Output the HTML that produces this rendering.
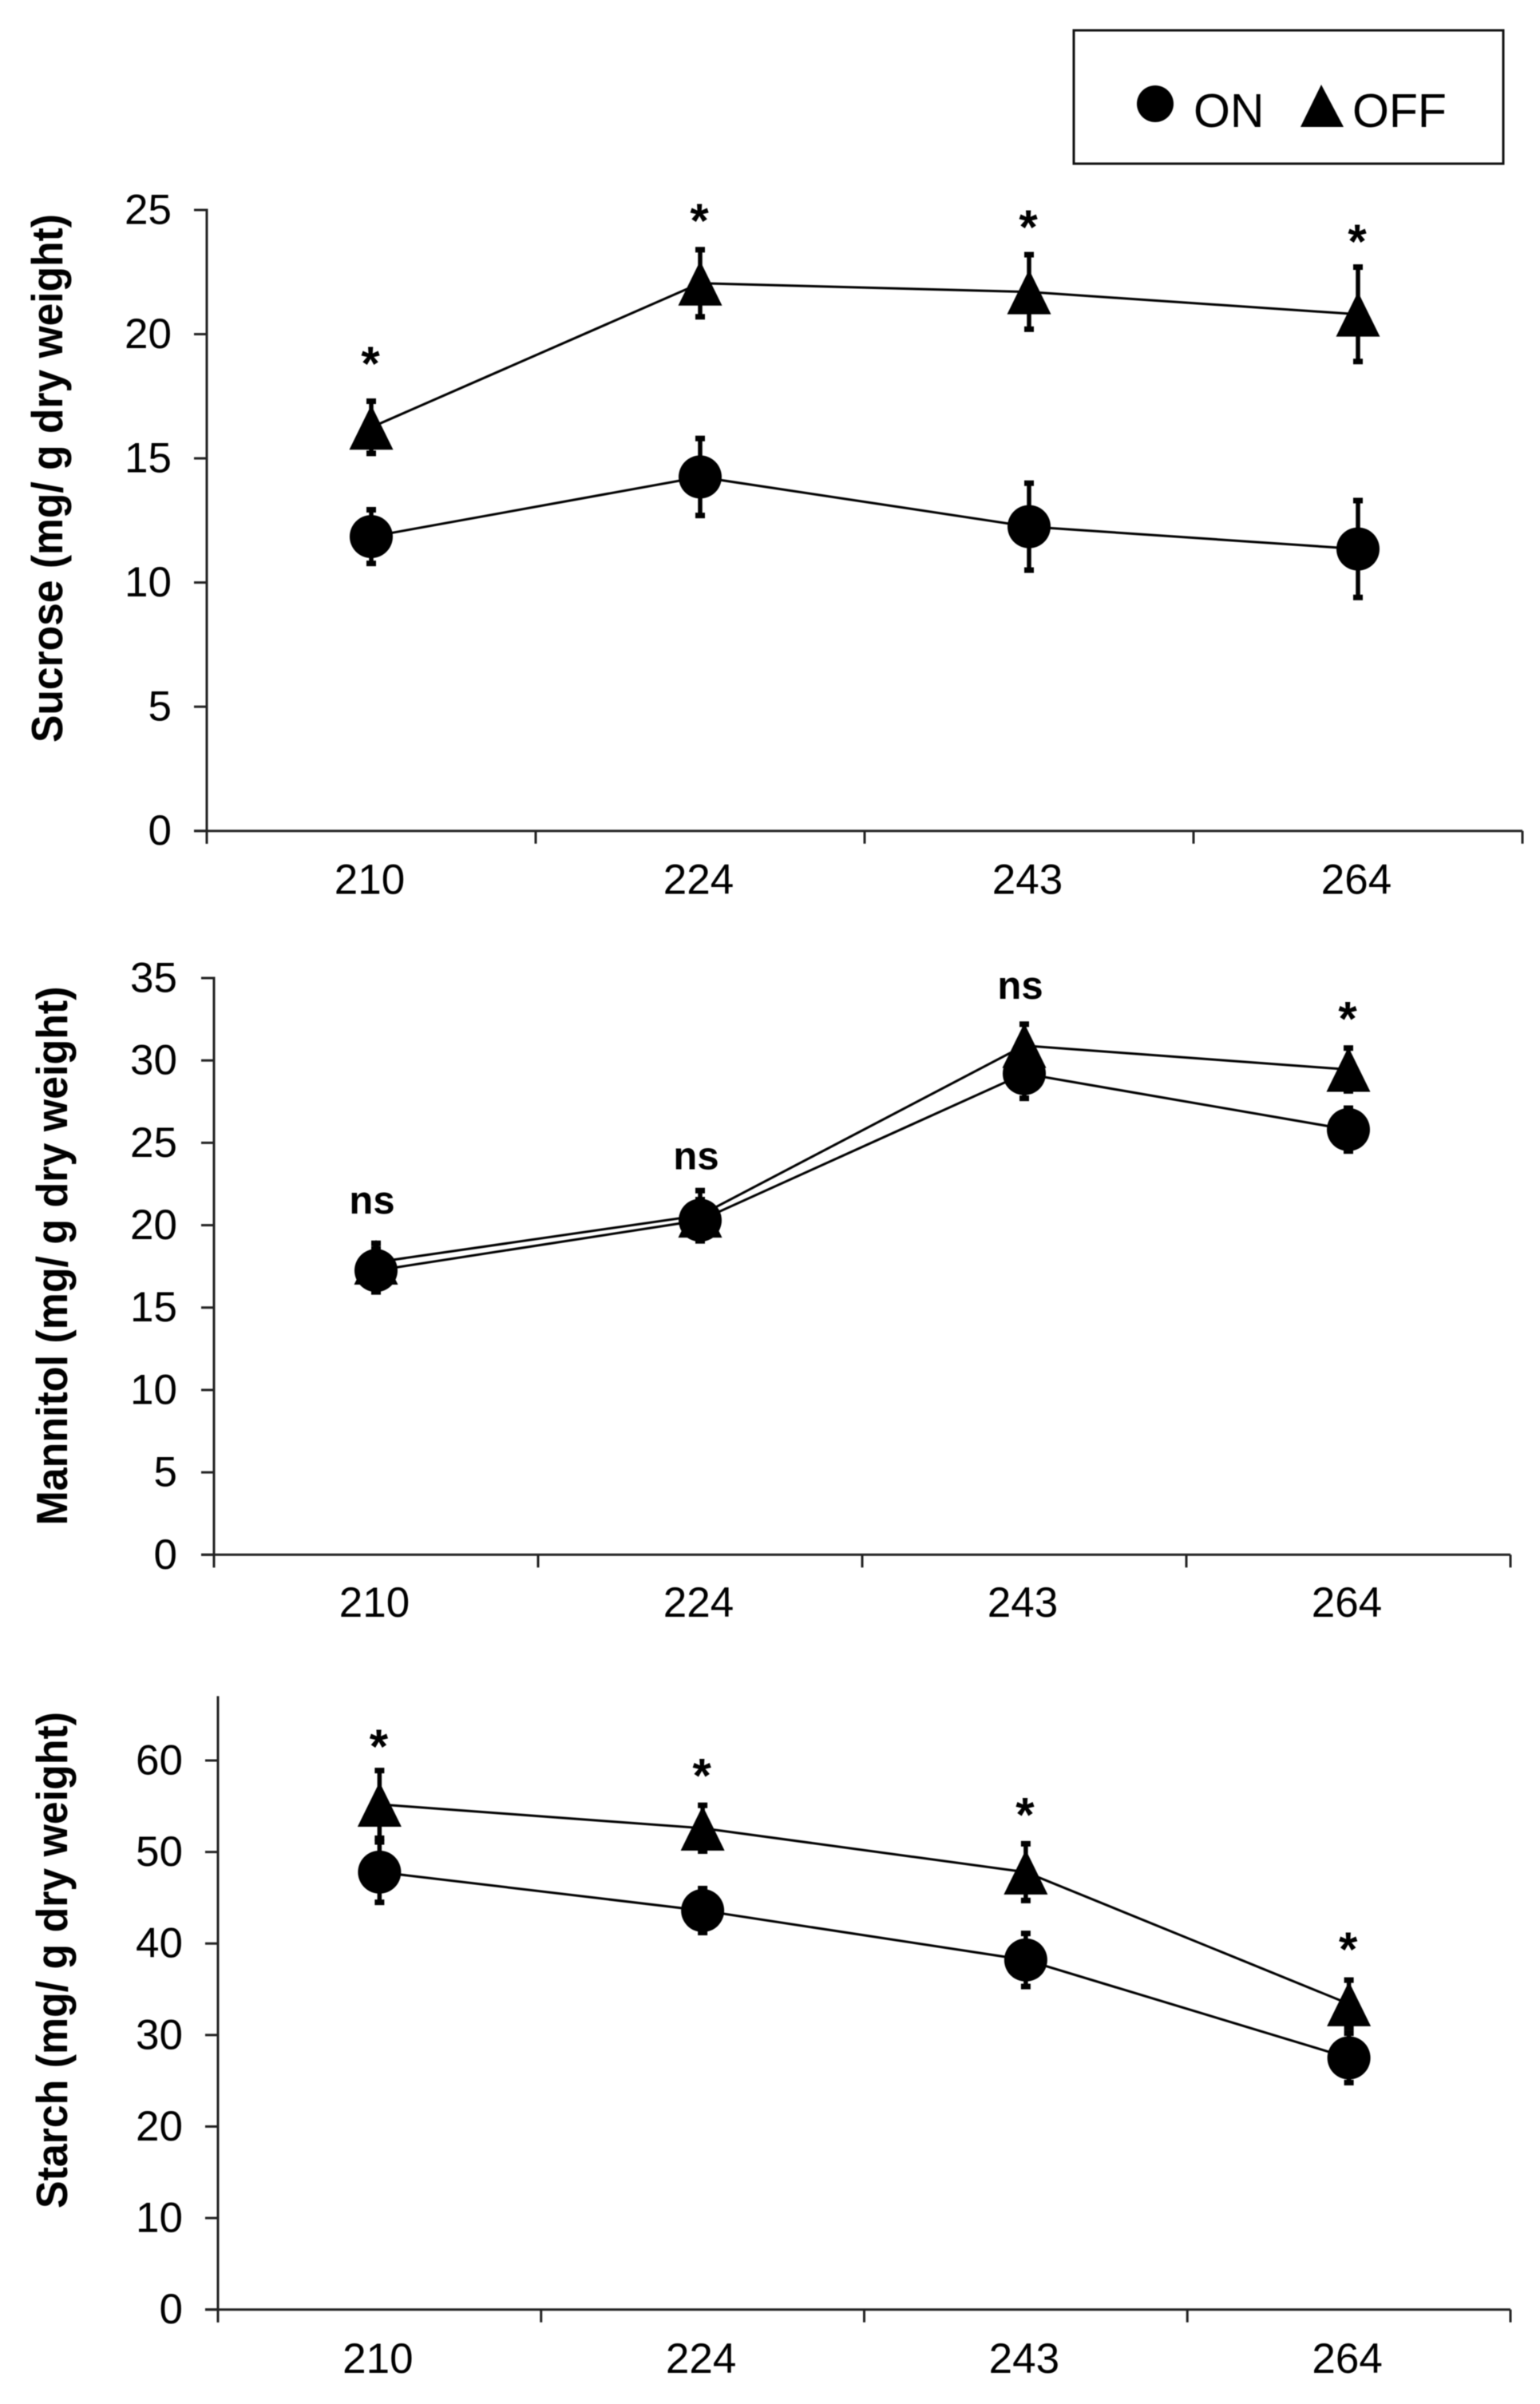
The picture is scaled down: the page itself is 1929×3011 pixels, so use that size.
<!DOCTYPE html>
<html lang="en">
<head>
<meta charset="utf-8">
<title>Sucrose, mannitol and starch content for ON and OFF</title>
<style>
  html, body { margin: 0; padding: 0; background: #fff; }
  svg { display: block; filter: blur(0.6px); }
  text { font-family: "Liberation Sans", Arial, sans-serif; fill: #000; }
</style>
</head>
<body>
<svg id="figure" xmlns="http://www.w3.org/2000/svg" width="1929" height="3011" viewBox="0 0 1929 3011">
  <rect x="0" y="0" width="1929" height="3011" fill="#fff"/>
  <g>
    <rect x="1345" y="38" width="538" height="167" fill="#fff" stroke="#111" stroke-width="3"/>
    <circle cx="1447" cy="130" r="23" fill="#000"/>
    <text x="1495" y="159" font-size="59">ON</text>
    <polygon points="1655,106 1683,159 1629,159" fill="#000"/>
    <text x="1694" y="159" font-size="59">OFF</text>
  </g>
</svg>
<script>
// Shared category labels
const categories = ['210', '224', '243', '264'];

// Sucrose panel
const sucroseTicks = [0, 5, 10, 15, 20, 25];
const sucroseOn = [11.85, 14.25, 12.25, 11.35];
const sucroseOnErr = [1.08, 1.55, 1.75, 1.95];
const sucroseOff = [16.25, 22.05, 21.7, 20.8];
const sucroseOffErr = [1.05, 1.35, 1.5, 1.9];
const sucroseSigLabels = ['*', '*', '*', '*'];
const sucroseSigAt = [19.06, 24.8, 24.55, 23.97];

// Mannitol panel
const mannitolTicks = [0, 5, 10, 15, 20, 25, 30, 35];
const mannitolOn = [17.25, 20.3, 29.2, 25.8];
const mannitolOnErr = [1.3, 1.25, 1.5, 1.3];
const mannitolOff = [17.75, 20.6, 30.9, 29.45];
const mannitolOffErr = [1.15, 1.5, 1.3, 1.3];
const mannitolSigLabels = ['ns', 'ns', 'ns', '*'];
const mannitolSigAt = [20.7, 23.4, 33.75, 32.9];

// Starch panel
const starchTicks = [0, 10, 20, 30, 40, 50, 60];
const starchOn = [47.8, 43.6, 38.2, 27.5];
const starchOnErr = [3.3, 2.4, 2.9, 2.7];
const starchOff = [55.2, 52.6, 47.8, 33.4];
const starchOffErr = [3.7, 2.5, 3.1, 2.6];
const starchSigLabels = ['*', '*', '*', '*'];
const starchSigAt = [62.2, 59, 54.7, 40];

const panels = [
  { key: 'sucrose', title: 'Sucrose (mg/ g dry weight)', ticks: sucroseTicks, on: sucroseOn, onErr: sucroseOnErr, off: sucroseOff, offErr: sucroseOffErr, sigLabels: sucroseSigLabels, sigAt: sucroseSigAt,
    left: 259, right: 1907, zeroY: 1040.7, maxV: 25, maxY: 263, axisTopV: 25, labelRight: 215, xLabelY: 1119.5, titleX: 78, titleCy: 599, titleLen: 662 },
  { key: 'mannitol', title: 'Mannitol (mg/ g dry weight)', ticks: mannitolTicks, on: mannitolOn, onErr: mannitolOnErr, off: mannitolOff, offErr: mannitolOffErr, sigLabels: mannitolSigLabels, sigAt: mannitolSigAt,
    left: 268, right: 1892, zeroY: 1947.3, maxV: 35, maxY: 1225, axisTopV: 35, labelRight: 222, xLabelY: 2025, titleX: 84, titleCy: 1573, titleLen: 675 },
  { key: 'starch', title: 'Starch (mg/ g dry weight)', ticks: starchTicks, on: starchOn, onErr: starchOnErr, off: starchOff, offErr: starchOffErr, sigLabels: starchSigLabels, sigAt: starchSigAt,
    left: 273, right: 1892, zeroY: 2892.7, maxV: 60, maxY: 2205, axisTopV: 66.9, labelRight: 229, xLabelY: 2972, titleX: 84, titleCy: 2455, titleLen: 622 }
];

const NS = 'http://www.w3.org/2000/svg';
const svg = document.getElementById('figure');

function make(tag, parent, props) {
  const node = document.createElementNS(NS, tag);
  for (const k in props) node.setAttribute(k, props[k]);
  parent.appendChild(node);
  return node;
}

function drawSeries(parent, seriesName, values, errs, xScale, yScale, shape) {
  const group = make('g', parent, {});
  
  

  const pts = values.map((v, i) => xScale(i) + ',' + yScale(v)).join(' ');
  const path = make('polyline', group, { points: pts, fill: 'none', stroke: '#000', 'stroke-width': 3 });
  
  

  values.forEach((v, i) => {
    const cx = xScale(i);
    const cy = yScale(v);
    const top = yScale(v + errs[i]);
    const bottom = yScale(v - errs[i]);

    const stem = make('line', group, { x1: cx, x2: cx, y1: top, y2: bottom, stroke: '#000', 'stroke-width': 5.5 });
    
    

    const capTop = make('rect', group, { x: cx - 6, y: top - 3.5, width: 12, height: 7, fill: '#000' });
    
    

    const capBottom = make('rect', group, { x: cx - 6, y: bottom - 3.5, width: 12, height: 7, fill: '#000' });
    
    

    let marker;
    if (shape === 'circle') {
      marker = make('circle', group, { cx: cx, cy: cy, r: 27, fill: '#000' });
    } else {
      const p = cx + ',' + (cy - 28) + ' ' + (cx + 27.5) + ',' + (cy + 28) + ' ' + (cx - 27.5) + ',' + (cy + 28);
      marker = make('polygon', group, { points: p, fill: '#000' });
    }
    
    
  });
}

panels.forEach(function (p) {
  const band = (p.right - p.left) / categories.length;
  const xScale = i => p.left + band * (i + 0.5);
  const yScale = v => p.zeroY - (p.zeroY - p.maxY) * v / p.maxV;

  const g = make('g', svg, {});
  
  

  // Axes
  const yAxis = make('line', g, { x1: p.left, x2: p.left, y1: yScale(p.axisTopV) - 1.5, y2: p.zeroY + 16, stroke: '#222', 'stroke-width': 3 });
  
  

  const xAxis = make('line', g, { x1: p.left - 16, x2: p.right, y1: p.zeroY, y2: p.zeroY, stroke: '#222', 'stroke-width': 3 });
  
  

  // Y ticks and labels
  p.ticks.forEach(function (t) {
    const y = yScale(t);
    const tick = make('line', g, { x1: p.left - 16, x2: p.left, y1: y, y2: y, stroke: '#222', 'stroke-width': 3 });
    
    

    const label = make('text', g, { x: p.labelRight, y: y + 17.5, 'font-size': 53, 'text-anchor': 'end' });
    
    
    label.textContent = String(t);
  });

  // X ticks and labels
  for (let i = 0; i <= categories.length; i++) {
    const x = p.left + band * i;
    const tick = make('line', g, { x1: x, x2: x, y1: p.zeroY, y2: p.zeroY + 16, stroke: '#222', 'stroke-width': 3 });
    
    
  }
  categories.forEach(function (c, i) {
    const label = make('text', g, { x: xScale(i) - 2, y: p.xLabelY, 'font-size': 53, 'text-anchor': 'middle' });
    
    
    label.textContent = c;
  });

  // Y axis title
  const title = make('text', g, {
    x: p.titleX, y: p.titleCy, 'font-size': 55, 'font-weight': 'bold', 'text-anchor': 'middle',
    textLength: p.titleLen, lengthAdjust: 'spacingAndGlyphs',
    transform: 'rotate(-90 ' + p.titleX + ' ' + p.titleCy + ')'
  });
  
  
  title.textContent = p.title;

  // Series (circles sit above triangles)
  drawSeries(g, p.key + '-off', p.off, p.offErr, xScale, yScale, 'triangle');
  drawSeries(g, p.key + '-on', p.on, p.onErr, xScale, yScale, 'circle');

  // Significance annotations
  p.sigLabels.forEach(function (s, i) {
    const isStar = s === '*';
    const y = yScale(p.sigAt[i]);
    const note = make('text', g, {
      x: isStar ? xScale(i) - 1 : xScale(i) - 5, y: isStar ? y + 28 : y,
      'font-size': isStar ? 60 : 49, 'font-weight': 'bold', 'text-anchor': 'middle'
    });
    
    
    note.textContent = s;
  });
});
</script>
</body>
</html>
